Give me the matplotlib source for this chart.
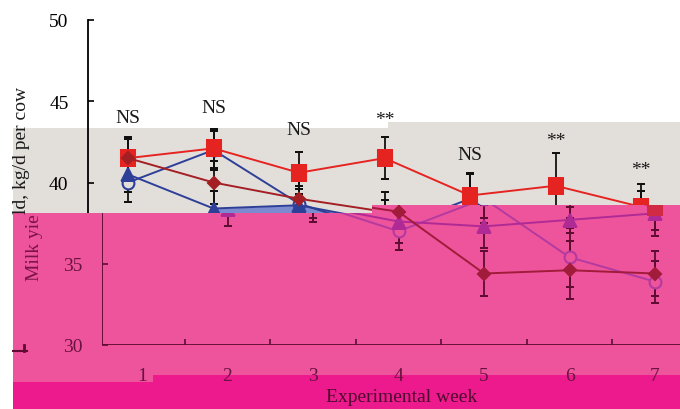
import matplotlib
matplotlib.use("Agg")
import matplotlib.pyplot as plt
from matplotlib.patches import Polygon
from matplotlib.lines import Line2D

plt.rcParams['font.family'] = ['Liberation Serif', 'DejaVu Serif']

# ---- data ----
weeks = [1, 2, 3, 4, 5, 6, 7]
red_sq = [41.5, 42.1, 40.6, 41.5, 39.2, 39.8, 38.5]
red_sq_se = [1.3, 1.2, 1.3, 1.3, 1.4, 2.0, 1.4]
dk_dia = [41.5, 40.0, 39.0, 38.2, 34.4, 34.6, 34.4]
dk_dia_se = [1.2, 1.3, 1.2, 1.2, 1.4, 1.8, 1.4]
bl_tri = [40.5, 38.4, 38.6, 37.6, 37.3, 37.7, 38.1]
bl_tri_se = [1.1, 1.1, 1.0, 1.3, 1.3, 0.8, 1.4]
bl_circ = [40.0, 42.0, 38.7, 37.0, 39.0, 35.4, 33.9]
bl_circ_se = [1.2, 1.2, 1.1, 1.15, 1.5, 1.8, 1.3]
sig_labels = ["NS", "NS", "NS", "**", "NS", "**", "**"]
sig_y = [43.72, 44.34, 43.0, 43.6, 41.45, 42.3, 40.5]
yticks_top = [40, 45, 50]
yticks_bot = [30, 35]

W, H = 680, 410
fig = plt.figure(figsize=(6.8, 4.1), dpi=100)


def fp(x, y):
    # pixel (from top left) -> figure fraction
    return (x / W, 1 - y / H)


grey = "#e2dfdb"
pink = "#ee549c"
magenta = "#ec1a8c"
maroon = "#5e0c32"

# glitch blocks behind everything
blocks = [
    ([(13, 129), (388, 129), (388, 123), (680, 123), (680, 206), (372, 206), (372, 214), (13, 214)], grey),
    ([(13, 214), (372, 214), (372, 206), (680, 206), (680, 376), (153, 376), (153, 383), (13, 383)], pink),
    ([(13, 383), (153, 383), (153, 376), (680, 376), (680, 410), (13, 410)], magenta),
]
for pts, c in blocks:
    fig.add_artist(Polygon([fp(*p) for p in pts], closed=True, transform=fig.transFigure,
                           facecolor=c, edgecolor='none', zorder=-1))

top_clip = Polygon([fp(0, 0), fp(680, 0), fp(680, 206), fp(372, 206), fp(372, 214), fp(0, 214)],
                   closed=True, transform=fig.transFigure)
bot_clip = Polygon([fp(13, 214), fp(372, 214), fp(372, 206), fp(680, 206), fp(680, 410), fp(13, 410)],
                   closed=True, transform=fig.transFigure)


def make_ax(dx):
    ax = fig.add_axes([(88 + dx) / W, 64 / H, 592 / W, 325 / H])
    ax.set_facecolor('none')
    ax.set_xlim(0.532, 7.456)
    ax.set_ylim(30, 50)
    ax.spines['top'].set_visible(False)
    ax.spines['right'].set_visible(False)
    return ax


def draw_series(ax, cols, ecol, circ_face, clip):
    series = [
        (bl_circ, bl_circ_se, 'o', 8.5, cols[3], circ_face),
        (bl_tri, bl_tri_se, '^', 8, cols[2], cols[2]),
        (red_sq, red_sq_se, 's', 9.5, cols[0], cols[0]),
        (dk_dia, dk_dia_se, 'D', 6.5, cols[1], cols[1]),
    ]
    for y, se, m, ms, c, fc in series:
        ax.errorbar(weeks, y, yerr=se, fmt='none', ecolor=ecol, elinewidth=1.3,
                    capsize=3.2, capthick=1.3, zorder=2)
    for y, se, m, ms, c, fc in series:
        ax.plot(weeks, y, color=c, lw=1.4, marker=m, ms=ms, mfc=fc, mec=c, mew=1.5, zorder=3)
    for art in ax.lines + ax.collections:
        art.set_clip_path(clip)
    for sp in ax.spines.values():
        sp.set_clip_path(clip)


# ---- top (untouched) copy ----
ax1 = make_ax(0)
ax1.fill_between(weeks[1:4], bl_tri[1:4], 36, color="#7c8ad0", lw=0, zorder=1)
draw_series(ax1, ["#e52421", "#a31f24", "#2e3f98", "#2e3f98"], "#111111", grey, top_clip)
ax1.spines['bottom'].set_visible(False)
ax1.set_xticks([])
ax1.set_yticks(yticks_top)
ax1.tick_params(axis='y', direction='in', length=4, width=1.2, pad=14, labelsize=14)
ax1.spines['left'].set_linewidth(1.3)
for w, s, yy in zip(weeks, sig_labels, sig_y):
    ax1.text(w, yy, s, ha='center', va='baseline', fontsize=14, color="#1a1a1a")

# ---- shifted copy inside the pink block ----
ax2 = make_ax(14)
draw_series(ax2, ["#d02a44", "#a01c3a", "#b02a96", "#b43aa0"], maroon, pink, bot_clip)
ax2.set_yticks(yticks_bot)
ax2.set_xticks(weeks)
ax2.set_xticks([1.5, 2.5, 3.5, 4.5, 5.5, 6.5], minor=True)
ax2.tick_params(axis='y', direction='in', length=4, width=1.2, pad=14, labelsize=14,
                colors=maroon, labelcolor="#6a1240")
ax2.tick_params(axis='x', which='major', length=0, pad=16, labelsize=14, labelcolor="#6a1240")
ax2.tick_params(axis='x', which='minor', direction='in', length=4, width=1.2, color=maroon)
for sp in ax2.spines.values():
    sp.set_color(maroon)
    sp.set_linewidth(1.3)

# y label, split where the pink block cuts it
fig.text(26 / W, 1 - 214 / H, "ld, kg/d per cow", rotation=90, rotation_mode='anchor',
         ha='left', va='baseline', fontsize=14, color="#1a1a1a")
fig.text(39 / W, 1 - 214 / H, "Milk yie", rotation=90, rotation_mode='anchor',
         ha='right', va='baseline', fontsize=14, color="#7a1446")

fig.text(402 / W, 1 - 402 / H, "Experimental week", ha='center', va='baseline',
         fontsize=14, color="#4e0a2e")

# small stray mark at left
fig.add_artist(Line2D([13 / W, 27 / W], [1 - 352 / H, 1 - 352 / H], color=maroon, lw=1.5))
fig.add_artist(Line2D([24 / W, 24 / W], [1 - 346 / H, 1 - 352 / H], color=maroon, lw=2))

fig.savefig("out.png", dpi=100)
